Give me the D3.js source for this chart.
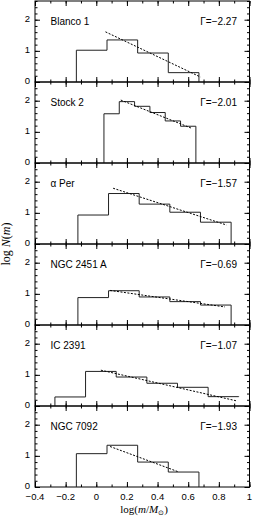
<!DOCTYPE html>
<html>
<head>
<meta charset="utf-8">
<script src="https://cdn.jsdelivr.net/npm/d3@7"></script>
<style>
  body { margin: 0; background: #fff; }
  svg text { font-family: "Liberation Sans", Arial, sans-serif; fill: #000; }
  .domain { stroke: #000; }
</style>
</head>
<body>
<div id="chart"></div>
<script>
// cluster names and slopes
var names = ["Blanco 1", "Stock 2", "\u03b1 Per", "NGC 2451 A", "IC 2391", "NGC 7092"];
var gammas = ["\u22122.27", "\u22122.01", "\u22121.57", "\u22120.69", "\u22121.07", "\u22121.93"];

// bin edges in log(m/Msun)
var edges = [
  [-0.13, 0.07, 0.27, 0.47, 0.67],
  [0.05, 0.15, 0.25, 0.35, 0.45, 0.55, 0.65],
  [-0.12, 0.08, 0.28, 0.48, 0.68, 0.88],
  [-0.12, 0.08, 0.28, 0.48, 0.68, 0.88],
  [-0.27, -0.07, 0.13, 0.33, 0.53, 0.73, 0.93],
  [-0.13, 0.07, 0.27, 0.47, 0.67]
];

// log N per bin
var counts = [
  [1.02, 1.35, 0.93, 0.30],
  [1.58, 1.97, 1.82, 1.62, 1.35, 1.18],
  [0.93, 1.62, 1.28, 1.02, 0.70],
  [0.88, 1.10, 0.90, 0.75, 0.64],
  [0.29, 1.11, 0.93, 0.73, 0.60, 0.30, 0.29],
  [1.07, 1.34, 0.80, 0.48]
];

// power-law fit end points [x0, y0, x1, y1]
var fits = [
  [0.06, 1.61, 0.68, 0.16],
  [0.16, 2.02, 0.62, 1.12],
  [0.11, 1.79, 0.85, 0.61],
  [0.09, 1.11, 0.84, 0.58],
  [0.03, 1.15, 0.92, 0.16],
  [0.09, 1.30, 0.54, 0.48]
];

var xTicks = [-0.4, -0.2, 0, 0.2, 0.4, 0.6, 0.8, 1];
var yTicks = [0, 1, 2];

var left = 35, right = 249.5, top0 = 1, panelH = 81;

var svg = d3.select("#chart").append("svg")
    .attr("width", 253)
    .attr("height", 520);

var x = d3.scaleLinear().domain([-0.4, 1]).range([left, right]);

var minorX = d3.range(-0.4, 1.001, 0.1).map(function(d) { return +d.toFixed(2); });
var minorY = d3.range(0, 2.61, 0.2).map(function(d) { return +d.toFixed(2); });

names.forEach(function(name, i) {
  var py = top0 + i * panelH;
  var y = d3.scaleLinear().domain([0, 2.6]).range([py + panelH, py]);
  var g = svg.append("g");

  // frame
  g.append("rect")
    .attr("x", left).attr("y", py)
    .attr("width", right - left).attr("height", panelH)
    .attr("fill", "none").attr("stroke", "#000").attr("stroke-width", 1);

  // ticks, all inward
  function ax(axisFn, scale, vals, size, tr) {
    var a = g.append("g")
      .attr("transform", tr)
      .call(axisFn(scale).tickValues(vals).tickSize(size).tickFormat(""));
    a.select(".domain").remove();
    a.selectAll("line").attr("stroke", "#000");
  }
  ax(d3.axisBottom, x, minorX, -2.5, "translate(0," + (py + panelH) + ")");
  ax(d3.axisBottom, x, xTicks, -5, "translate(0," + (py + panelH) + ")");
  ax(d3.axisTop, x, minorX, -2.5, "translate(0," + py + ")");
  ax(d3.axisTop, x, xTicks, -5, "translate(0," + py + ")");
  ax(d3.axisLeft, y, minorY, -2.5, "translate(" + left + ",0)");
  ax(d3.axisLeft, y, yTicks, -5, "translate(" + left + ",0)");
  ax(d3.axisRight, y, minorY, -2.5, "translate(" + right + ",0)");
  ax(d3.axisRight, y, yTicks, -5, "translate(" + right + ",0)");

  // y tick labels
  g.selectAll(".ylab").data(yTicks).enter().append("text")
    .attr("x", 30).attr("y", function(d) { return y(d) + 2; })
    .attr("text-anchor", "end")
    .style("font-size", "9.5px")
    .text(function(d) { return d; });

  // histogram outline
  var e = edges[i], c = counts[i];
  var pts = [[e[0], 0]];
  c.forEach(function(v, k) { pts.push([e[k], v]); pts.push([e[k + 1], v]); });
  pts.push([e[e.length - 1], 0]);
  g.append("path")
    .attr("d", d3.line().x(function(d) { return x(d[0]); }).y(function(d) { return y(d[1]); })(pts))
    .attr("fill", "none").attr("stroke", "#222").attr("stroke-width", 1);

  // fit
  var f = fits[i];
  g.append("line")
    .attr("x1", x(f[0])).attr("y1", y(f[1]))
    .attr("x2", x(f[2])).attr("y2", y(f[3]))
    .attr("stroke", "#000").attr("stroke-width", 1)
    .attr("stroke-dasharray", "2,1.5");

  // labels
  g.append("text")
    .attr("x", 50.5).attr("y", py + 23.5)
    .style("font-size", "10px")
    .text(name);
  g.append("text")
    .attr("x", 237).attr("y", py + 23.5)
    .attr("text-anchor", "end")
    .style("font-size", "10px")
    .text("\u0393=" + gammas[i]);
});

// x tick labels
svg.selectAll(".xlab").data(xTicks).enter().append("text")
  .attr("x", function(d) { return x(d); })
  .attr("y", top0 + 6 * panelH + 12.5)
  .attr("text-anchor", "middle")
  .style("font-size", "9.5px")
  .text(function(d) { return d < 0 ? "\u2212" + Math.abs(d) : d; });

// axis titles
var xt = svg.append("text")
  .attr("x", 144).attr("y", 513)
  .attr("text-anchor", "middle")
  .style("font-family", "'Liberation Serif', serif")
  .style("font-size", "11px");
xt.append("tspan").text("log(");
xt.append("tspan").style("font-style", "italic").text("m");
xt.append("tspan").text("/");
xt.append("tspan").style("font-style", "italic").text("M");
xt.append("tspan").attr("dy", 2).style("font-size", "7px").text("\u2299");
xt.append("tspan").attr("dy", -2).text(")");

var yt = svg.append("text")
  .attr("transform", "translate(10,244) rotate(-90)")
  .attr("text-anchor", "middle")
  .style("font-family", "'Liberation Serif', serif")
  .style("font-size", "12px");
yt.append("tspan").text("log ");
yt.append("tspan").style("font-style", "italic").text("N");
yt.append("tspan").text("(");
yt.append("tspan").style("font-style", "italic").text("m");
yt.append("tspan").text(")");
</script>
</body>
</html>
